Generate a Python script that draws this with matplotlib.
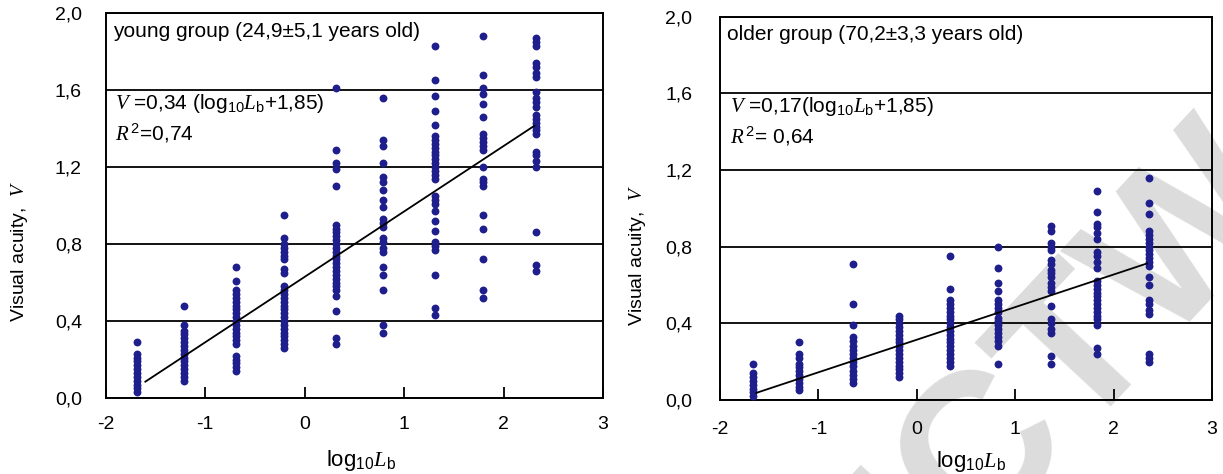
#!/usr/bin/env python3

import numpy as np
import matplotlib
matplotlib.use("Agg")
from matplotlib import pyplot as plt

plt.rcParams['font.family'] = ['Liberation Sans', 'DejaVu Sans']
plt.rcParams['mathtext.fontset'] = 'custom'
plt.rcParams['mathtext.rm'] = 'Liberation Sans'
plt.rcParams['mathtext.it'] = 'Liberation Serif:italic'
plt.rcParams['axes.unicode_minus'] = False

# luminance levels (log10 Lb) used for each group
young_log_lum = [-1.686, -1.208, -0.691, -0.209, 0.317, 0.792, 1.312, 1.797, 2.323]
older_log_lum = [-1.661, -1.193, -0.650, -0.176, 0.340, 0.825, 1.364, 1.832, 2.357]

# visual acuity of each subject at each luminance level
young_acuity = [
	[0.29, 0.23, 0.21, 0.19, 0.17, 0.15, 0.13, 0.11, 0.09, 0.07, 0.05, 0.03],
	[0.48, 0.38, 0.35, 0.33, 0.31, 0.29, 0.27, 0.25, 0.23, 0.21, 0.19, 0.17, 0.15, 0.13, 0.11, 0.09],
	[0.68, 0.61, 0.56, 0.54, 0.52, 0.50, 0.48, 0.46, 0.44, 0.42, 0.40, 0.38, 0.36, 0.34, 0.32, 0.30,
	 0.28, 0.22, 0.20, 0.18, 0.16, 0.14],
	[0.95, 0.83, 0.80, 0.78, 0.76, 0.74, 0.72, 0.67, 0.65, 0.58, 0.56, 0.54, 0.52, 0.50, 0.48, 0.46,
	 0.44, 0.42, 0.40, 0.38, 0.36, 0.34, 0.32, 0.30, 0.28, 0.26],
	[1.61, 1.29, 1.22, 1.19, 1.10, 0.90, 0.88, 0.86, 0.84, 0.82, 0.80, 0.78, 0.76, 0.74, 0.72, 0.70,
	 0.68, 0.66, 0.64, 0.62, 0.60, 0.58, 0.56, 0.53, 0.45, 0.31, 0.28],
	[1.56, 1.34, 1.31, 1.22, 1.15, 1.12, 1.08, 1.03, 0.99, 0.93, 0.91, 0.89, 0.83, 0.81, 0.78, 0.76,
	 0.68, 0.64, 0.56, 0.38, 0.34],
	[1.83, 1.65, 1.57, 1.49, 1.42, 1.36, 1.34, 1.32, 1.30, 1.28, 1.26, 1.24, 1.22, 1.20, 1.18, 1.16,
	 1.14, 1.05, 1.03, 1.01, 0.97, 0.92, 0.87, 0.81, 0.79, 0.77, 0.64, 0.47, 0.43],
	[1.88, 1.68, 1.61, 1.58, 1.53, 1.46, 1.37, 1.35, 1.33, 1.31, 1.29, 1.20, 1.14, 1.12, 1.10, 0.95,
	 0.88, 0.72, 0.56, 0.52],
	[1.87, 1.85, 1.83, 1.74, 1.72, 1.69, 1.67, 1.59, 1.56, 1.54, 1.51, 1.47, 1.45, 1.43, 1.41, 1.39,
	 1.37, 1.28, 1.26, 1.23, 1.20, 0.86, 0.69, 0.66],
]
older_acuity = [
	[0.19, 0.14, 0.12, 0.10, 0.08, 0.06, 0.04, 0.02],
	[0.30, 0.24, 0.22, 0.19, 0.17, 0.15, 0.13, 0.11, 0.09, 0.07, 0.05],
	[0.71, 0.50, 0.39, 0.33, 0.31, 0.28, 0.26, 0.24, 0.22, 0.20, 0.18, 0.15, 0.13, 0.11, 0.09],
	[0.44, 0.42, 0.40, 0.38, 0.36, 0.34, 0.32, 0.30, 0.28, 0.26, 0.24, 0.22, 0.20, 0.18, 0.16, 0.14,
	 0.12],
	[0.75, 0.58, 0.52, 0.50, 0.48, 0.46, 0.44, 0.42, 0.40, 0.38, 0.36, 0.34, 0.32, 0.30, 0.28, 0.26,
	 0.24, 0.22, 0.20, 0.18],
	[0.80, 0.69, 0.61, 0.57, 0.52, 0.50, 0.48, 0.46, 0.43, 0.41, 0.39, 0.37, 0.35, 0.33, 0.31, 0.28,
	 0.19],
	[0.91, 0.88, 0.82, 0.80, 0.78, 0.73, 0.71, 0.68, 0.66, 0.64, 0.61, 0.59, 0.57, 0.49, 0.42, 0.40,
	 0.37, 0.35, 0.23, 0.19],
	[1.09, 0.98, 0.92, 0.90, 0.87, 0.84, 0.77, 0.75, 0.72, 0.69, 0.62, 0.60, 0.58, 0.56, 0.54, 0.52,
	 0.50, 0.48, 0.46, 0.44, 0.42, 0.39, 0.27, 0.24],
	[1.16, 1.03, 0.97, 0.88, 0.86, 0.84, 0.82, 0.80, 0.78, 0.76, 0.74, 0.72, 0.70, 0.64, 0.60, 0.52,
	 0.50, 0.47, 0.45, 0.24, 0.22, 0.20],
]

# regression V = slope * (log10 Lb + offset), drawn over fit_range
young_slope, young_offset, young_r2 = 0.34, 1.85, 0.74
older_slope, older_offset, older_r2 = 0.17, 1.85, 0.64
young_fit_range = [-1.60, 2.31]
older_fit_range = [-1.63, 2.34]

x_ticks = [-2, -1, 0, 1, 2, 3]
y_ticks = [0.0, 0.4, 0.8, 1.2, 1.6, 2.0]

dot_color = '#1e1e8c'
tick_fs = 14
note_fs = 15


def comma(v, digits):
	return ('%.*f' % (digits, v)).replace('.', ',')


def draw_panel(ax, lum, acuity, slope, offset, fit_range, title, eq_text, r2_text):
	xs = np.concatenate([[x] * len(col) for x, col in zip(lum, acuity)])
	ys = np.concatenate(acuity)
	ax.scatter(xs, ys, s=32, color=dot_color, linewidths=0, zorder=3)
	fx = np.array(fit_range)
	ax.plot(fx, slope * (fx + offset), color='k', lw=1.3, zorder=4)

	ax.set_xlim(-2, 3)
	ax.set_ylim(0, 2.0)
	ax.set_xticks(x_ticks)
	ax.set_xticklabels([str(t) for t in x_ticks], fontsize=tick_fs)
	ax.set_yticks(y_ticks)
	ax.set_yticklabels([comma(t, 1) for t in y_ticks], fontsize=tick_fs)
	ax.tick_params(axis='x', direction='in', length=8, width=1.3)
	ax.tick_params(axis='y', length=0)
	ax.yaxis.grid(True, color='k', lw=1.3)
	ax.set_axisbelow(True)
	for sp in ax.spines.values():
		sp.set_linewidth(1.4)

	ax.set_xlabel(r'log$_{10}$$\mathit{L}_{\mathrm{b}}$', fontsize=16)
	ax.set_ylabel(r'Visual acuity,  $\mathit{V}$', fontsize=14)

	ax.text(0.015, 0.953, title, transform=ax.transAxes, fontsize=note_fs, va='center')
	ax.text(0.02, 0.766, eq_text, transform=ax.transAxes, fontsize=note_fs, va='center')
	ax.text(0.02, 0.688, r2_text, transform=ax.transAxes, fontsize=note_fs, va='center')


fig = plt.figure(figsize=(12.23, 4.74), dpi=100)
ax1 = fig.add_axes([0.0863, 0.1603, 0.4068, 0.8122])
ax2 = fig.add_axes([0.5887, 0.1561, 0.4023, 0.8089])

draw_panel(ax1, young_log_lum, young_acuity, young_slope, young_offset, young_fit_range,
		   'young group (24,9\u00b15,1 years old)',
		   r'$\mathit{V}$ =%s (log$_{10}$$\mathit{L}_{\mathrm{b}}$+%s)'
		   % (comma(young_slope, 2), comma(young_offset, 2)),
		   r'$\mathit{R}^{\,2}$=%s' % comma(young_r2, 2))
draw_panel(ax2, older_log_lum, older_acuity, older_slope, older_offset, older_fit_range,
		   'older group (70,2\u00b13,3 years old)',
		   r'$\mathit{V}$ =%s(log$_{10}$$\mathit{L}_{\mathrm{b}}$+%s)'
		   % (comma(older_slope, 2), comma(older_offset, 2)),
		   r'$\mathit{R}^{\,2}$= %s' % comma(older_r2, 2))

ax1.yaxis.set_tick_params(pad=17)
ax2.yaxis.set_tick_params(pad=20)
ax1.xaxis.set_tick_params(pad=13)
ax2.xaxis.set_tick_params(pad=15)
ax1.yaxis.set_label_coords(-0.152, 0.38)
ax2.yaxis.set_label_coords(-0.146, 0.378)
ax1.xaxis.set_label_coords(0.514, -0.13)
ax2.xaxis.set_label_coords(0.51, -0.128)

# faint stamp across the right panel
ax2.text(0.852, 0.185, 'NCTW', transform=fig.transFigure, fontsize=150, fontweight='bold',
		 color='#dcdcdc', rotation=47, ha='center', va='center', rotation_mode='anchor',
		 clip_on=False, zorder=0)

fig.savefig('out.png', dpi=100)
